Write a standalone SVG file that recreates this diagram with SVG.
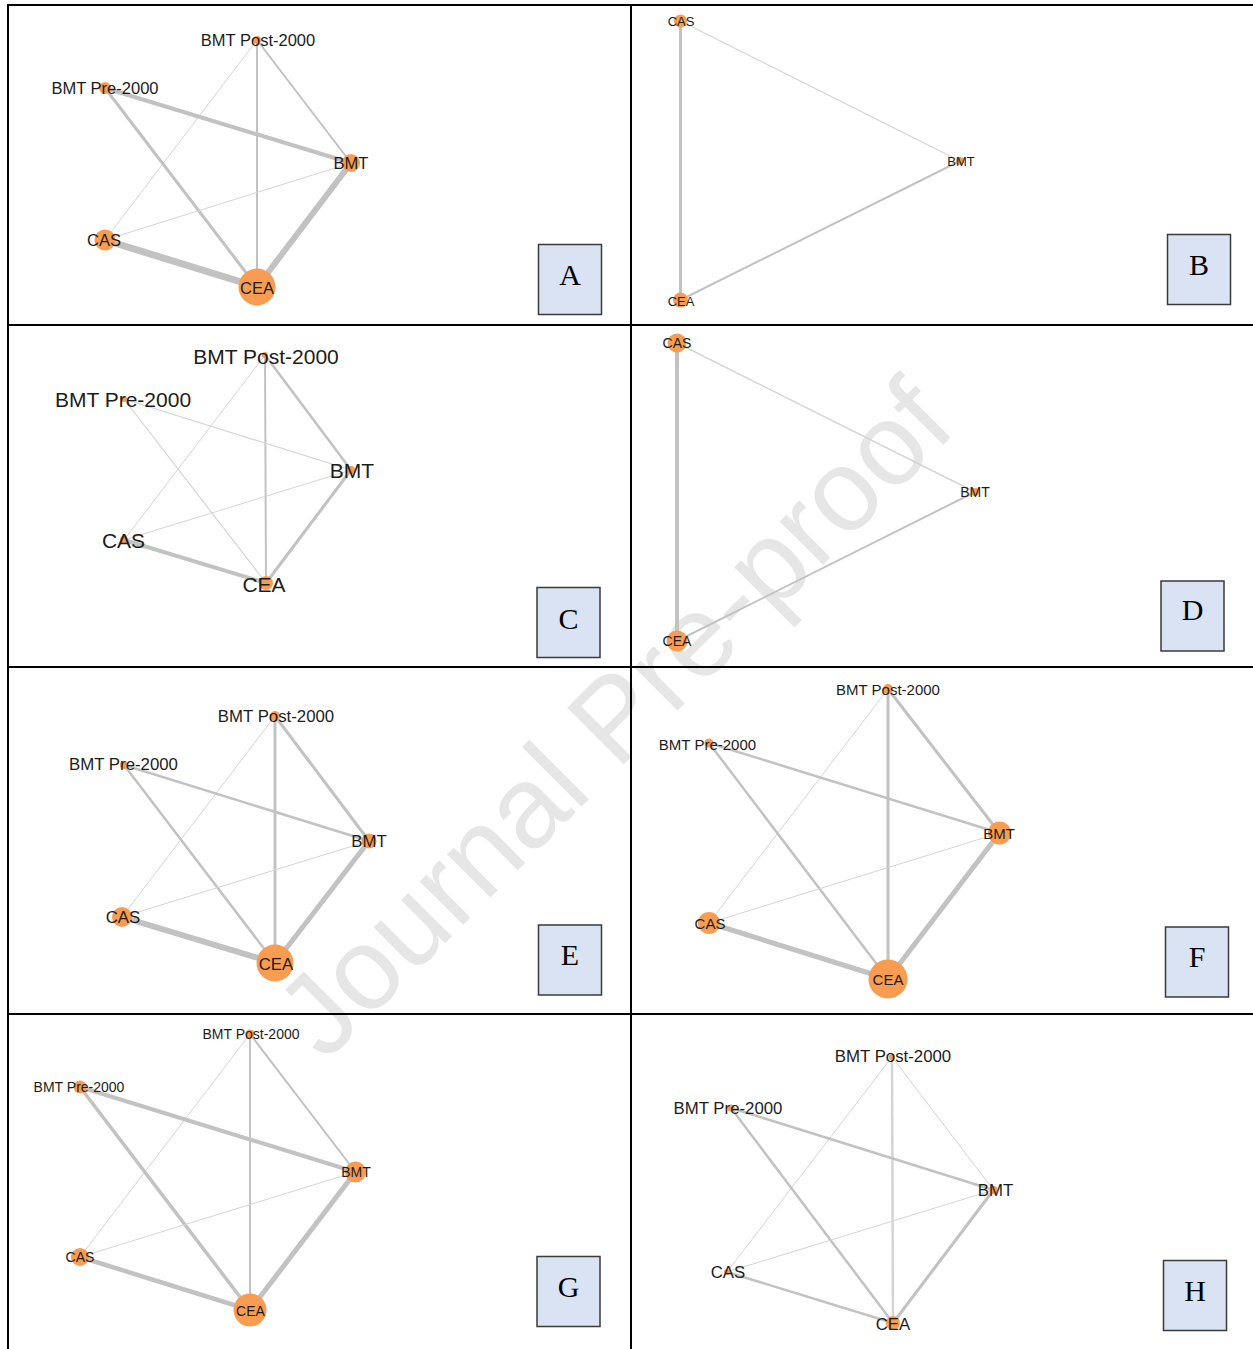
<svg xmlns="http://www.w3.org/2000/svg" width="1253" height="1349" viewBox="0 0 1253 1349">
<style>
.bg{fill:#ffffff}
.wm{font-family:"Liberation Sans",Arial,sans-serif;fill:#e6e6e6}
.grid{stroke:#000;stroke-width:2;fill:none}
.e{stroke:#c2c2c2;fill:none;stroke-linecap:butt}
.el{stroke:#d4d4d4;fill:none}
.n{fill:#f89c52}
.t{font-family:"Liberation Sans",Arial,sans-serif;fill:#1c1c1c;text-anchor:middle;dominant-baseline:central}
.box{fill:#dae3f3;stroke:#3a3a3a;stroke-width:1.5}
.bl{font-family:"Liberation Serif","Times New Roman",serif;font-size:30px;fill:#000;text-anchor:middle}
</style>
<rect class="bg" x="0" y="0" width="1253" height="1349"/>
<text class="wm" x="642" y="746" font-size="116" text-anchor="middle" transform="rotate(-45 642 746)">Journal Pre-proof</text>
<g id="grid">
<line class="grid" x1="8" y1="5" x2="1253" y2="5"/>
<line class="grid" x1="8" y1="4" x2="8" y2="1349"/>
<line class="grid" x1="631" y1="4" x2="631" y2="1349"/>
<line class="grid" x1="8" y1="325" x2="1253" y2="325"/>
<line class="grid" x1="8" y1="667" x2="1253" y2="667"/>
<line class="grid" x1="8" y1="1014" x2="1253" y2="1014"/>
</g>

<!-- Panel A -->
<g id="panel-A">
<g id="A-connectors">
<line class="el" x1="257" y1="40" x2="105" y2="240" stroke-width="1"/>
<line class="e" x1="257" y1="40" x2="257" y2="287" stroke-width="2"/>
<line class="e" x1="257" y1="40" x2="351" y2="163" stroke-width="2"/>
<line class="e" x1="105" y1="88" x2="351" y2="163" stroke-width="4"/>
<line class="e" x1="105" y1="88" x2="257" y2="287" stroke-width="3"/>
<line class="el" x1="351" y1="163" x2="105" y2="240" stroke-width="1"/>
<line class="e" x1="351" y1="163" x2="257" y2="287" stroke-width="6"/>
<line class="e" x1="105" y1="240" x2="257" y2="287" stroke-width="7"/>
</g>
<g id="A-post" font-size="16.5"><circle class="n" cx="257" cy="40" r="4"/><text class="t" x="258" y="40">BMT Post-2000</text></g>
<g id="A-pre" font-size="16.5"><circle class="n" cx="105" cy="88" r="6"/><text class="t" x="105" y="88">BMT Pre-2000</text></g>
<g id="A-bmt" font-size="16.5"><circle class="n" cx="351" cy="163" r="9"/><text class="t" x="351" y="163">BMT</text></g>
<g id="A-cas" font-size="16.5"><circle class="n" cx="105" cy="240" r="10.5"/><text class="t" x="104" y="240">CAS</text></g>
<g id="A-cea" font-size="16.5"><circle class="n" cx="257" cy="287" r="18.5"/><text class="t" x="257" y="288">CEA</text></g>
<g id="A-label"><rect class="box" x="538.5" y="244.5" width="63" height="70"/><text class="bl" x="570" y="285">A</text></g>
</g>

<!-- Panel B -->
<g id="panel-B">
<g id="B-connectors">
<line class="e" x1="680.5" y1="21" x2="680.5" y2="300" stroke-width="3"/>
<line class="el" x1="680.5" y1="21" x2="960" y2="161" stroke-width="1.2"/>
<line class="e" x1="960" y1="161" x2="680.5" y2="300" stroke-width="2"/>
</g>
<g id="B-cas" font-size="13"><circle class="n" cx="680.5" cy="21" r="6.5"/><text class="t" x="681" y="21">CAS</text></g>
<g id="B-bmt" font-size="13"><circle class="n" cx="960" cy="161" r="4"/><text class="t" x="961" y="161">BMT</text></g>
<g id="B-cea" font-size="13"><circle class="n" cx="680.5" cy="300" r="7.5"/><text class="t" x="681" y="301">CEA</text></g>
<g id="B-label"><rect class="box" x="1167.5" y="234.5" width="63" height="70"/><text class="bl" x="1199" y="275">B</text></g>
</g>

<!-- Panel C -->
<g id="panel-C">
<g id="C-connectors">
<line class="el" x1="265" y1="355" x2="124" y2="540" stroke-width="1"/>
<line class="e" x1="265" y1="355" x2="266" y2="583" stroke-width="2"/>
<line class="e" x1="265" y1="355" x2="351" y2="470" stroke-width="2.5"/>
<line class="el" x1="124" y1="399" x2="351" y2="470" stroke-width="1.2"/>
<line class="el" x1="124" y1="399" x2="266" y2="583" stroke-width="1.2"/>
<line class="el" x1="351" y1="470" x2="124" y2="540" stroke-width="1"/>
<line class="e" x1="351" y1="470" x2="266" y2="583" stroke-width="3"/>
<line class="e" x1="124" y1="540" x2="266" y2="583" stroke-width="4"/>
</g>
<g id="C-post" font-size="21"><circle class="n" cx="265" cy="355" r="3"/><text class="t" x="266" y="356">BMT Post-2000</text></g>
<g id="C-pre" font-size="21"><circle class="n" cx="124" cy="399" r="3"/><text class="t" x="123" y="399">BMT Pre-2000</text></g>
<g id="C-bmt" font-size="21"><circle class="n" cx="351" cy="470" r="4"/><text class="t" x="352" y="470">BMT</text></g>
<g id="C-cas" font-size="21"><circle class="n" cx="124" cy="540" r="4"/><text class="t" x="123.5" y="540">CAS</text></g>
<g id="C-cea" font-size="21"><circle class="n" cx="266" cy="583" r="7"/><text class="t" x="264" y="584">CEA</text></g>
<g id="C-label"><rect class="box" x="537" y="587.5" width="63" height="70"/><text class="bl" x="568.5" y="629">C</text></g>
</g>

<!-- Panel D -->
<g id="panel-D">
<g id="D-connectors">
<line class="e" x1="677" y1="343" x2="677" y2="641" stroke-width="4"/>
<line class="el" x1="677" y1="343" x2="975" y2="492" stroke-width="1.5"/>
<line class="e" x1="975" y1="492" x2="677" y2="641" stroke-width="2"/>
</g>
<g id="D-cas" font-size="14"><circle class="n" cx="677" cy="343" r="9.5"/><text class="t" x="677" y="343">CAS</text></g>
<g id="D-bmt" font-size="14"><circle class="n" cx="975" cy="492" r="4"/><text class="t" x="975" y="492">BMT</text></g>
<g id="D-cea" font-size="14"><circle class="n" cx="677" cy="641" r="10.5"/><text class="t" x="677" y="641">CEA</text></g>
<g id="D-label"><rect class="box" x="1161" y="581" width="63" height="70"/><text class="bl" x="1192.5" y="620">D</text></g>
</g>

<!-- Panel E -->
<g id="panel-E">
<g id="E-connectors">
<line class="el" x1="275" y1="716" x2="122" y2="917" stroke-width="1"/>
<line class="e" x1="275" y1="716" x2="275" y2="963" stroke-width="3"/>
<line class="e" x1="275" y1="716" x2="369" y2="841" stroke-width="3"/>
<line class="e" x1="124" y1="765" x2="369" y2="841" stroke-width="2.5"/>
<line class="e" x1="124" y1="765" x2="275" y2="963" stroke-width="2.5"/>
<line class="el" x1="369" y1="841" x2="122" y2="917" stroke-width="1"/>
<line class="e" x1="369" y1="841" x2="275" y2="963" stroke-width="5"/>
<line class="e" x1="122" y1="917" x2="275" y2="963" stroke-width="6"/>
</g>
<g id="E-post" font-size="16.8"><circle class="n" cx="275" cy="716" r="5"/><text class="t" x="276" y="716.5">BMT Post-2000</text></g>
<g id="E-pre" font-size="16.8"><circle class="n" cx="124" cy="765" r="4"/><text class="t" x="123.5" y="764.5">BMT Pre-2000</text></g>
<g id="E-bmt" font-size="16.8"><circle class="n" cx="369" cy="841" r="7.5"/><text class="t" x="369" y="841">BMT</text></g>
<g id="E-cas" font-size="16.8"><circle class="n" cx="122" cy="917" r="10"/><text class="t" x="123" y="917">CAS</text></g>
<g id="E-cea" font-size="16.8"><circle class="n" cx="275" cy="963" r="18.5"/><text class="t" x="276" y="964">CEA</text></g>
<g id="E-label"><rect class="box" x="538.5" y="925" width="63" height="70"/><text class="bl" x="570" y="965">E</text></g>
</g>

<!-- Panel F -->
<g id="panel-F">
<g id="F-connectors">
<line class="el" x1="888" y1="689" x2="709" y2="923" stroke-width="1"/>
<line class="e" x1="888" y1="689" x2="888" y2="979" stroke-width="3"/>
<line class="e" x1="888" y1="689" x2="999.5" y2="833" stroke-width="3"/>
<line class="e" x1="709" y1="743" x2="999.5" y2="833" stroke-width="2.5"/>
<line class="e" x1="709" y1="743" x2="888" y2="979" stroke-width="2.5"/>
<line class="el" x1="999.5" y1="833" x2="709" y2="923" stroke-width="1"/>
<line class="e" x1="999.5" y1="833" x2="888" y2="979" stroke-width="5"/>
<line class="e" x1="709" y1="923" x2="888" y2="979" stroke-width="5"/>
</g>
<g id="F-post" font-size="15"><circle class="n" cx="888" cy="689" r="5"/><text class="t" x="888" y="689">BMT Post-2000</text></g>
<g id="F-pre" font-size="15"><circle class="n" cx="709" cy="743" r="4.5"/><text class="t" x="707.5" y="744">BMT Pre-2000</text></g>
<g id="F-bmt" font-size="15"><circle class="n" cx="999.5" cy="833" r="11.5"/><text class="t" x="999" y="833">BMT</text></g>
<g id="F-cas" font-size="15"><circle class="n" cx="709" cy="923" r="11"/><text class="t" x="710" y="923">CAS</text></g>
<g id="F-cea" font-size="15"><circle class="n" cx="888" cy="979" r="19.5"/><text class="t" x="888" y="979">CEA</text></g>
<g id="F-label"><rect class="box" x="1165.5" y="927" width="63" height="70"/><text class="bl" x="1197" y="967">F</text></g>
</g>

<!-- Panel G -->
<g id="panel-G">
<g id="G-connectors">
<line class="el" x1="250" y1="1034" x2="80" y2="1257" stroke-width="1"/>
<line class="e" x1="250" y1="1034" x2="250" y2="1310" stroke-width="2"/>
<line class="e" x1="250" y1="1034" x2="355.5" y2="1172" stroke-width="2"/>
<line class="e" x1="80" y1="1087" x2="355.5" y2="1172" stroke-width="4"/>
<line class="e" x1="80" y1="1087" x2="250" y2="1310" stroke-width="3.5"/>
<line class="el" x1="355.5" y1="1172" x2="80" y2="1257" stroke-width="1"/>
<line class="e" x1="355.5" y1="1172" x2="250" y2="1310" stroke-width="5"/>
<line class="e" x1="80" y1="1257" x2="250" y2="1310" stroke-width="4.5"/>
</g>
<g id="G-post" font-size="14"><circle class="n" cx="250" cy="1034" r="4.5"/><text class="t" x="251" y="1034">BMT Post-2000</text></g>
<g id="G-pre" font-size="14"><circle class="n" cx="80" cy="1087" r="6.5"/><text class="t" x="79" y="1087">BMT Pre-2000</text></g>
<g id="G-bmt" font-size="14"><circle class="n" cx="355.5" cy="1172" r="10.5"/><text class="t" x="356" y="1172">BMT</text></g>
<g id="G-cas" font-size="14"><circle class="n" cx="80" cy="1257" r="9"/><text class="t" x="80" y="1257">CAS</text></g>
<g id="G-cea" font-size="14"><circle class="n" cx="250" cy="1310" r="16.5"/><text class="t" x="250.5" y="1311">CEA</text></g>
<g id="G-label"><rect class="box" x="537" y="1256.5" width="63" height="70"/><text class="bl" x="568.5" y="1297">G</text></g>
</g>

<!-- Panel H -->
<g id="panel-H">
<g id="H-connectors">
<line class="el" x1="892" y1="1057" x2="727" y2="1272" stroke-width="1"/>
<line class="el" x1="892" y1="1057" x2="893" y2="1323" stroke-width="2.5"/>
<line class="el" x1="892" y1="1057" x2="993.5" y2="1190" stroke-width="1"/>
<line class="e" x1="731" y1="1108" x2="993.5" y2="1190" stroke-width="2.5"/>
<line class="e" x1="731" y1="1108" x2="893" y2="1323" stroke-width="2.5"/>
<line class="el" x1="993.5" y1="1190" x2="727" y2="1272" stroke-width="1"/>
<line class="e" x1="993.5" y1="1190" x2="893" y2="1323" stroke-width="3"/>
<line class="e" x1="727" y1="1272" x2="893" y2="1323" stroke-width="2.5"/>
</g>
<g id="H-post" font-size="16.8"><circle class="n" cx="892" cy="1057" r="3"/><text class="t" x="893" y="1056">BMT Post-2000</text></g>
<g id="H-pre" font-size="16.8"><circle class="n" cx="731" cy="1108" r="3.5"/><text class="t" x="728" y="1108">BMT Pre-2000</text></g>
<g id="H-bmt" font-size="16.8"><circle class="n" cx="993.5" cy="1190" r="4"/><text class="t" x="995.5" y="1190">BMT</text></g>
<g id="H-cas" font-size="16.8"><circle class="n" cx="727" cy="1272" r="3"/><text class="t" x="728" y="1272">CAS</text></g>
<g id="H-cea" font-size="16.8"><circle class="n" cx="893" cy="1323" r="7"/><text class="t" x="893" y="1324">CEA</text></g>
<g id="H-label"><rect class="box" x="1163.5" y="1260.5" width="63" height="70"/><text class="bl" x="1195" y="1301">H</text></g>
</g>
</svg>
